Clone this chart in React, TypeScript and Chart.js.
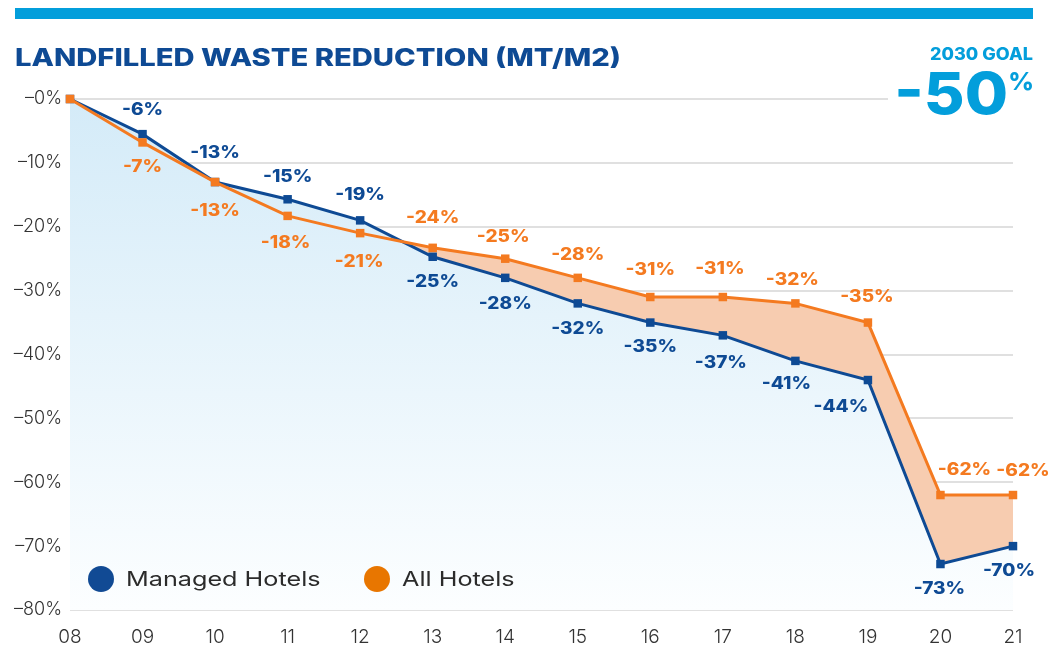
import React, { useEffect, useRef } from "react";
import { Chart, registerables } from "chart.js";

Chart.register(...registerables);

const years = ["08", "09", "10", "11", "12", "13", "14", "15", "16", "17", "18", "19", "20", "21"];
const managedHotels = [0, -5.5, -13, -15.7, -19, -24.7, -28, -32, -35, -37, -41, -44, -72.8, -70];
const allHotels = [0, -6.8, -13, -18.3, -21, -23.3, -25, -28, -31, -31, -32, -35, -62, -62];
const managedLabels = ["", "-6%", "-13%", "-15%", "-19%", "-25%", "-28%", "-32%", "-35%", "-37%", "-41%", "-44%", "-73%", "-70%"];
const allLabels = ["", "-7%", "-13%", "-18%", "-21%", "-24%", "-25%", "-28%", "-31%", "-31%", "-32%", "-35%", "-62%", "-62%"];
const yTicks = [0, -10, -20, -30, -40, -50, -60, -70, -80];
const titleText = "LANDFILLED WASTE REDUCTION (MT/M2)";
const goalLabel = "2030 GOAL";
const goalValue = "-50";

const BLUE = "#0e4a94";
const ORANGE = "#f47a20";
const CYAN = "#039edb";
const FONT = "Inter, 'Open Sans', sans-serif";

// label placement offsets (dx, dy) relative to each point
const managedOffsets = [
  [0, 0], [0, -24], [0, -29], [0, -22], [0, -25], [0, 25], [0, 26], [0, 25], [0, 24], [-2, 28], [-9, 23], [-27, 27], [-1, 25], [-4, 25],
];
const allOffsets = [
  [0, 0], [0, 24], [0, 29], [-2, 27], [-1, 29], [0, -30], [-2, -22], [0, -23], [0, -27], [-3, -28], [-3, -24], [-1, -26], [24, -25], [10, -24],
];

function drawText(ctx: any, text: string, x: number, y: number, sx: number, align: "left" | "center" | "right") {
  const w = ctx.measureText(text).width * sx;
  let left = x;
  if (align === "center") left = x - w / 2;
  else if (align === "right") left = x - w;
  ctx.save();
  ctx.textAlign = "left";
  ctx.translate(left, y);
  ctx.scale(sx, 1);
  ctx.fillText(text, 0, 0);
  ctx.restore();
}

const decorPlugin = {
  id: "decor",
  afterDatasetsDraw(chart: any) {
    const ctx = chart.ctx;
    const metaM = chart.getDatasetMeta(0);
    const metaA = chart.getDatasetMeta(1);
    ctx.save();
    ctx.font = `800 17px ${FONT}`;
    ctx.textBaseline = "middle";
    metaM.data.forEach((pt: any, i: number) => {
      if (!managedLabels[i]) return;
      ctx.fillStyle = BLUE;
      drawText(ctx, managedLabels[i], pt.x + managedOffsets[i][0], pt.y + managedOffsets[i][1], 1.12, "center");
    });
    metaA.data.forEach((pt: any, i: number) => {
      if (!allLabels[i]) return;
      ctx.fillStyle = ORANGE;
      drawText(ctx, allLabels[i], pt.x + allOffsets[i][0], pt.y + allOffsets[i][1], 1.12, "center");
    });

    // legend
    const items = [
      { label: chart.data.datasets[0].label, color: "#114a94", x: 101 },
      { label: chart.data.datasets[1].label, color: "#e87600", x: 377 },
    ];
    ctx.font = `400 20px ${FONT}`;
    items.forEach((it) => {
      ctx.fillStyle = it.color;
      ctx.beginPath();
      ctx.arc(it.x, 579, 13, 0, Math.PI * 2);
      ctx.fill();
      ctx.fillStyle = "#2b2b2b";
      drawText(ctx, it.label, it.x + 25, 580, 1.26, "left");
    });
    ctx.restore();
  },
  afterDraw(chart: any) {
    const ctx = chart.ctx;
    ctx.save();
    // top bar
    ctx.fillStyle = CYAN;
    ctx.fillRect(15, 8, 1018, 11);
    // title
    ctx.fillStyle = BLUE;
    ctx.font = `800 24px ${FONT}`;
    ctx.textBaseline = "alphabetic";
    const tw = ctx.measureText(titleText).width;
    drawText(ctx, titleText, 15, 66, 606 / tw, "left");
    // hide part of top grid line
    ctx.fillStyle = "#ffffff";
    ctx.fillRect(888, 95, 130, 9);
    // goal
    ctx.fillStyle = CYAN;
    ctx.font = `800 17px ${FONT}`;
    drawText(ctx, goalLabel, 1033, 60, 1.06, "right");
    ctx.font = `800 25px ${FONT}`;
    drawText(ctx, "%", 1034, 90, 1.0, "right");
    ctx.font = `800 58px ${FONT}`;
    drawText(ctx, goalValue, 1008, 114, 1.08, "right");
    ctx.restore();
  },
};

export default function App() {
  const ref = useRef<HTMLCanvasElement>(null);
  useEffect(() => {
    if (!ref.current) return;
    const chart = new Chart(ref.current, {
      type: "line",
      data: {
        labels: years,
        datasets: [
          {
            label: "Managed Hotels",
            data: managedHotels,
            borderColor: BLUE,
            backgroundColor: (c: any) => {
              const area = c.chart.chartArea;
              if (!area) return "rgba(215,236,248,1)";
              const g = c.chart.ctx.createLinearGradient(0, area.top, 0, area.bottom);
              g.addColorStop(0, "rgba(212,235,248,1)");
              g.addColorStop(1, "rgba(252,254,255,1)");
              return g;
            },
            fill: "start",
            borderWidth: 3,
            pointStyle: "rect",
            pointRadius: 6,
            pointBackgroundColor: BLUE,
            pointBorderWidth: 0,
            tension: 0,
            order: 2,
            clip: false,
          },
          {
            label: "All Hotels",
            data: allHotels,
            borderColor: ORANGE,
            backgroundColor: ORANGE,
            fill: { target: 0, above: "rgb(247,204,176)", below: "rgba(0,0,0,0)" },
            borderWidth: 3,
            pointStyle: "rect",
            pointRadius: 6,
            pointBackgroundColor: ORANGE,
            pointBorderWidth: 0,
            tension: 0,
            order: 1,
            clip: false,
          },
        ],
      },
      options: {
        animation: false,
        responsive: false,
        maintainAspectRatio: false,
        layout: { padding: { left: 0, right: 46, top: 99, bottom: 0 } },
        plugins: {
          legend: { display: false },
          tooltip: { enabled: false },
          filler: { drawTime: "beforeDatasetsDraw" },
        } as any,
        scales: {
          x: {
            offset: false,
            grid: { display: false },
            border: { display: false },
            ticks: {
              color: "#333333",
              font: { family: FONT, size: 19, weight: 300 },
              padding: 8,
              maxRotation: 0,
            },
            afterFit: (s: any) => { s.height = 44; },
          },
          y: {
            min: -80,
            max: 0,
            afterBuildTicks: (s: any) => { s.ticks = yTicks.map((v) => ({ value: v })); },
            grid: { color: "#e0e0e0", lineWidth: 2, drawTicks: false },
            border: { display: false },
            ticks: {
              color: "#333333",
              font: { family: FONT, size: 18, weight: 300 },
              padding: 8,
              callback: (v: any) => "\u2013" + Math.abs(Number(v)) + "%",
            },
            afterFit: (s: any) => { s.width = 70; },
          },
        },
      } as any,
      plugins: [decorPlugin],
    });
    return () => chart.destroy();
  }, []);
  return (
    <div style={{ position: "fixed", left: 0, top: 0, width: 1059, height: 654, background: "#fff" }}>
      <canvas ref={ref} width={1059} height={654} style={{ width: 1059, height: 654 }} />
    </div>
  );
}
